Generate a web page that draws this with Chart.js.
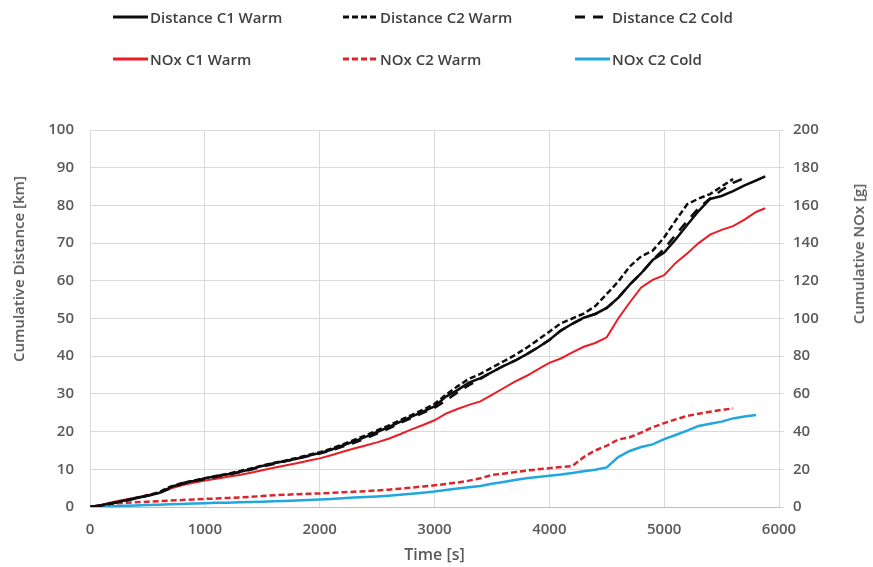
<!DOCTYPE html>
<html lang="en">

<head>
    <meta charset="UTF-8">
    <title>Cumulative Distance and NOx</title>
    <style>
        body { margin: 0; background: #fff; }
        #wrap { position: relative; width: 873px; height: 567px; font-family: "Open Sans", sans-serif; }
        #myChart { display: block; }
        .leg { position: absolute; display: flex; align-items: center; height: 20px; font-size: 15px; font-weight: 600; color: #404040; white-space: nowrap; }
        .leg svg { margin-right: 2px; }
        .ytitle { position: absolute; transform: translate(-50%, -50%) rotate(-90deg); font-size: 15px; font-weight: 600; color: #595959; white-space: nowrap; }
    </style>
</head>

<body>
    <div id="wrap">
        <canvas id="myChart" width="873" height="567"></canvas>
        <div id="legend"></div>
        <div class="ytitle" style="left: 18px; top: 269px;">Cumulative Distance [km]</div>
        <div class="ytitle" style="left: 858px; top: 254px;">Cumulative NOx [g]</div>
    </div>

    <script src="https://cdn.jsdelivr.net/npm/chart.js"></script>

    <script>
        // time axis [s]
        const timeSec = [
            0, 100, 200, 300, 400, 500, 600, 700, 800, 900,
            1000, 1100, 1200, 1300, 1400, 1500, 1600, 1700, 1800, 1900,
            2000, 2100, 2200, 2300, 2400, 2500, 2600, 2700, 2800, 2900,
            3000, 3100, 3200, 3300, 3400, 3500, 3600, 3700, 3800, 3900,
            4000, 4100, 4200, 4300, 4400, 4500, 4600, 4700, 4800, 4900,
            5000, 5100, 5200, 5300, 5400, 5500, 5600, 5700, 5800, 5880];

        // cumulative distance [km]
        const distC1Warm = [
            0, 0.5, 1.1, 1.7, 2.3, 3.0, 3.7, 5.2, 6.3, 6.9,
            7.6, 8.2, 8.7, 9.3, 10.0, 10.9, 11.6, 12.2, 12.8, 13.6,
            14.3, 15.2, 16.3, 17.4, 18.6, 19.9, 21.2, 22.6, 24.0, 25.3,
            26.7, 29.3, 31.0, 33.0, 34.2, 35.8, 37.4, 38.8, 40.5, 42.3,
            44.3, 46.8, 48.6, 50.2, 51.2, 52.8, 55.5, 59.0, 62.0, 65.5,
            67.5, 71.0, 74.8, 78.5, 81.7, 82.5, 83.8, 85.3, 86.6, 87.7];
        const distC2Warm = [
            0, 0.4, 1.0, 1.7, 2.4, 3.1, 3.9, 5.4, 6.3, 7.0,
            7.6, 8.2, 8.8, 9.5, 10.2, 11.0, 11.7, 12.3, 13.0, 13.8,
            14.5, 15.5, 16.6, 17.8, 19.0, 20.3, 21.6, 23.0, 24.4, 25.8,
            27.3, 29.8, 32.0, 34.0, 35.3, 37.0, 38.6, 40.3, 42.2, 44.3,
            46.5, 48.7, 50.0, 51.3, 53.3, 56.5, 59.8, 63.8, 66.5, 68.0,
            71.5, 76.0, 80.3, 81.8, 83.0, 85.0, 87.0, null, null, null];
        const distC2Cold = [
            0, 0.5, 1.0, 1.6, 2.3, 3.0, 3.6, 5.0, 6.1, 6.8,
            7.4, 8.0, 8.6, 9.2, 9.9, 10.7, 11.4, 12.1, 12.8, 13.5,
            14.2, 15.0, 16.0, 17.0, 18.2, 19.5, 20.8, 22.3, 23.6, 25.0,
            26.3, 28.3, 30.4, 32.3, 34.0, 35.8, 37.4, 38.8, 40.5, 42.3,
            44.3, 46.8, 48.6, 50.2, 51.2, 52.8, 55.5, 59.0, 62.0, 65.5,
            68.5, 72.2, 75.8, 79.3, 81.8, 84.0, 86.0, 87.3, null, null];

        // cumulative NOx [g]
        const noxC1Warm = [
            0, 1.2, 2.6, 3.8, 5.0, 6.3, 7.5, 9.8, 11.5, 12.8,
            14.0, 15.0, 16.0, 17.0, 18.2, 19.5, 20.8, 22.0, 23.2, 24.5,
            25.8, 27.5, 29.3, 31.0, 32.6, 34.3, 36.2, 38.6, 41.2, 43.5,
            46.0, 49.5, 52.0, 54.2, 56.0, 59.5, 63.0, 66.5, 69.5, 73.0,
            76.5, 78.8, 82.0, 85.0, 87.0, 90.0, 100.0, 108.5, 116.5, 120.5,
            123.0, 129.5, 134.5, 140.0, 144.5, 147.0, 149.0, 152.5, 156.5, 158.5];
        const noxC2Warm = [
            0, 1.0, 1.8, 2.2, 2.5, 2.8, 3.1, 3.4, 3.7, 4.0,
            4.3, 4.5, 4.8, 5.1, 5.4, 5.8, 6.2, 6.5, 6.8, 7.0,
            7.2, 7.5, 7.8, 8.1, 8.4, 8.8, 9.2, 9.7, 10.3, 10.9,
            11.5, 12.2, 13.0, 14.0, 15.2, 17.0, 17.7, 18.5, 19.3, 20.0,
            20.6, 21.2, 21.7, 26.5, 30.0, 32.5, 35.8, 37.0, 39.5, 42.3,
            44.5, 46.5, 48.3, 49.5, 50.5, 51.5, 52.3, null, null, null];
        const noxC2Cold = [
            0, 0.2, 0.4, 0.6, 0.8, 1.0, 1.2, 1.4, 1.6, 1.8,
            2.0, 2.2, 2.3, 2.5, 2.6, 2.8, 3.0, 3.2, 3.4, 3.7,
            4.0, 4.3, 4.6, 5.0, 5.3, 5.6, 6.0, 6.5, 7.0, 7.6,
            8.2, 9.0, 9.8, 10.5, 11.2, 12.3, 13.3, 14.3, 15.2, 15.9,
            16.6, 17.2, 18.0, 19.0, 19.8, 21.0, 26.5, 29.7, 31.8, 33.2,
            36.0, 38.2, 40.5, 43.0, 44.2, 45.3, 47.0, 48.0, 48.8, null];

        function f_points(values) {
            let out = [];
            for (let i = 0; i < timeSec.length; i++) {
                if (values[i] != null) {
                    out.push({ x: timeSec[i], y: values[i] });
                }
            }
            return out;
        }

        const axisGray = "#595959";
        const tickFont = { family: "Open Sans", size: 15, weight: "600" };
        const plainNumber = function (value) { return String(value); };

        const ctx = document.getElementById("myChart");

        const chart = new Chart(ctx, {
            type: 'line',
            data: {
                datasets: [
                    { label: "Distance C1 Warm", data: f_points(distC1Warm), borderColor: "#0d0d0d", borderWidth: 2.5, yAxisID: "y" },
                    { label: "Distance C2 Warm", data: f_points(distC2Warm), borderColor: "#0d0d0d", borderWidth: 2.5, borderDash: [6, 3], yAxisID: "y" },
                    { label: "Distance C2 Cold", data: f_points(distC2Cold), borderColor: "#0d0d0d", borderWidth: 2.5, borderDash: [10, 8], yAxisID: "y" },
                    { label: "NOx C1 Warm", data: f_points(noxC1Warm), borderColor: "#ec1c24", borderWidth: 2, yAxisID: "y2" },
                    { label: "NOx C2 Warm", data: f_points(noxC2Warm), borderColor: "#d8262c", borderWidth: 2.5, borderDash: [6, 3], yAxisID: "y2" },
                    { label: "NOx C2 Cold", data: f_points(noxC2Cold), borderColor: "#22a6df", borderWidth: 2.5, yAxisID: "y2" }
                ]
            },
            options: {
                responsive: false,
                animation: false,
                layout: { padding: { top: 130, left: 0, right: 0, bottom: 0 } },
                elements: { point: { radius: 0 }, line: { tension: 0 } },
                plugins: {
                    legend: { display: false },
                    tooltip: { enabled: false }
                },
                scales: {
                    x: {
                        type: 'linear', min: 0, max: 6000,
                        ticks: { stepSize: 1000, padding: 14, color: axisGray, font: tickFont, maxRotation: 0, callback: plainNumber },
                        grid: { color: "#d9d9d9", drawTicks: false },
                        border: { color: "#bfbfbf" },
                        title: { display: true, text: "Time [s]", color: axisGray, font: { family: "Open Sans", size: 16, weight: "600" }, padding: { top: 0, bottom: 2 } },
                        afterFit: function (s) { s.height = 60; }
                    },
                    y: {
                        position: 'left', min: 0, max: 100,
                        ticks: { stepSize: 10, padding: 16, color: axisGray, font: tickFont, callback: plainNumber },
                        grid: { color: "#d9d9d9", drawTicks: false },
                        border: { color: "#d9d9d9" },
                        afterFit: function (s) { s.width = 90; }
                    },
                    y2: {
                        position: 'right', min: 0, max: 200,
                        ticks: { stepSize: 20, padding: 9, color: axisGray, font: tickFont, callback: plainNumber },
                        grid: { drawOnChartArea: false, color: "#d9d9d9", tickLength: 5 },
                        border: { display: false },
                        afterFit: function (s) { s.width = 94; }
                    }
                }
            }
        });

        // html legend, 3 columns x 2 rows like the original
        const legendSpots = [[113, 7], [343, 7], [575, 7], [113, 49], [343, 49], [575, 49]];
        let v_html = "";
        chart.data.datasets.forEach(function (ds, i) {
            let dash = "";
            if (ds.borderDash) {
                dash = ds.borderDash[0] == 10 ? ' stroke-dasharray="10,8"' : ' stroke-dasharray="6,3"';
            }
            v_html += '<div class="leg" style="left:' + legendSpots[i][0] + 'px; top:' + legendSpots[i][1] + 'px;">' +
                '<svg width="35" height="6"><line x1="0" y1="3" x2="35" y2="3" stroke="' + ds.borderColor + '" stroke-width="3"' + dash + '/></svg>' +
                '<span>' + ds.label + '</span></div>';
        });
        document.getElementById("legend").innerHTML = v_html;
    </script>

</body>

</html>
